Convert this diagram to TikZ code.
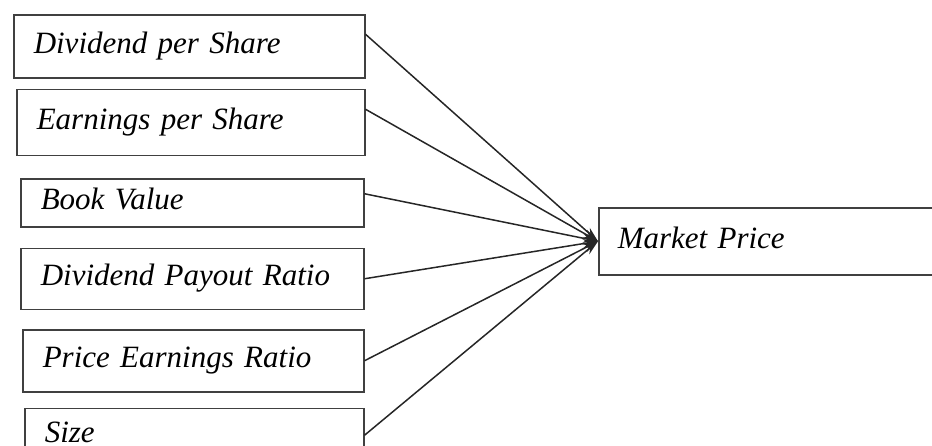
\documentclass[tikz,border=0pt]{standalone}
\usepackage{fontspec}
\setmainfont{Liberation Serif}
\usetikzlibrary{positioning,arrows.meta}

\tikzset{
  factor/.style 2 args={draw=black!75, line width=1.5pt, anchor=north west,
    inner xsep=20pt, align=left, text width=#1-40pt, minimum height=#2,
    text height=21pt, text depth=7pt,
    font=\itshape\fontsize{31}{36}\selectfont},
  link/.style={draw=black!85, line width=1.5pt, -{Stealth[length=15pt,width=9pt]}}
}

\begin{document}
\begin{tikzpicture}[x=1pt, y=-1pt]
        \useasboundingbox (0,0) rectangle (932,445);
        \clip (0,0) rectangle (932,445);

        \node[factor={351pt}{63pt}] (dps) at (13,14) {Dividend per Share};

        \node[factor={348pt}{66pt}, below=10pt of dps.south west, anchor=north west, xshift=3pt] (eps) {Earnings per Share};

        \node[factor={343pt}{48pt}, below=22pt of eps.south west, anchor=north west, xshift=4pt] (bv) {Book Value};

        \node[factor={343pt}{61pt}, below=20pt of bv.south west, anchor=north west] (dpr) {Dividend Payout Ratio};

        \node[factor={341pt}{62pt}, below=19pt of dpr.south west, anchor=north west, xshift=2pt] (per) {Price Earnings Ratio};

        \node[factor={339pt}{54pt}, below=15pt of per.south west, anchor=north west, xshift=2pt] (size) {Size};

        \node[factor={360pt}{67pt}, inner xsep=19pt] (mp) at (598,207) {Market Price};

        \draw[link] ([yshift=12pt]dps.east) -- (mp.west);
        \draw[link] ([yshift=13pt]eps.east) -- (mp.west);
        \draw[link] ([yshift=9pt]bv.east) -- (mp.west);
        \draw[link] (dpr.east) -- (mp.west);
        \draw[link] (per.east) -- (mp.west);
        \draw[link] (size.east) -- (mp.west);

    \end{tikzpicture}
\end{document}
